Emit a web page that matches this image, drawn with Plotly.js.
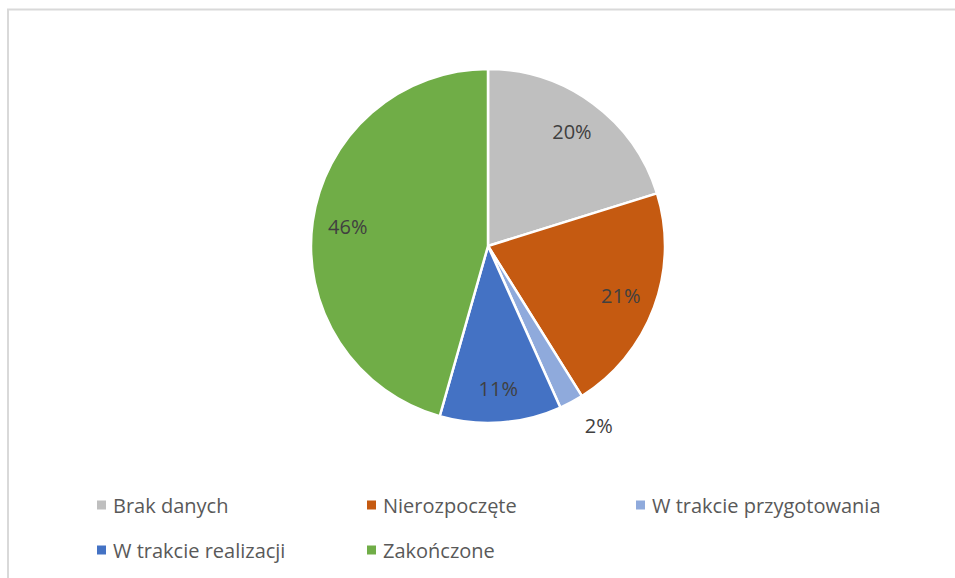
<!DOCTYPE html>
<html>
<head>
<meta charset="utf-8">
<script src="https://cdn.plot.ly/plotly-3.0.1.min.js"></script>
<style>html,body{margin:0;padding:0;background:#fff;}#chart{width:955px;height:578px;}</style>
</head>
<body>
<div id="chart"></div>
<script>
const categories = ["Brak danych", "Nierozpoczęte", "W trakcie przygotowania", "W trakcie realizacji", "Zakończone"];
const values = [20.2, 20.9, 2.2, 11.1, 45.6];
const colors = ["#BFBFBF", "#C55A11", "#8FAADC", "#4472C4", "#70AD47"];
const textPositions = ["inside", "inside", "outside", "inside", "inside"];

const W = 955, H = 578;
const cx = 488, cy = 246, R = 177;
const FONT = "'Open Sans', Lato, sans-serif";
function dom(r) {
  return {x: [(cx - r) / W, (cx + r) / W], y: [1 - (cy + r) / H, 1 - (cy - r) / H]};
}

// slices
const pieTrace = {
  type: "pie",
  labels: categories,
  values: values,
  sort: false,
  direction: "clockwise",
  rotation: 0,
  marker: {colors: colors, line: {color: "#ffffff", width: 2.5}},
  textinfo: "none",
  hoverinfo: "label+percent",
  showlegend: false,
  domain: dom(R)
};

// transparent ring carrying the data labels (places them at ~0.8 R like the original)
const ringScale = 1.08;
const labelTrace = {
  type: "pie",
  labels: categories,
  values: values,
  sort: false,
  direction: "clockwise",
  rotation: 0,
  hole: 2 * 0.8 / ringScale - 1,
  marker: {colors: categories.map(() => "rgba(0,0,0,0)"), line: {width: 0}},
  textinfo: "percent",
  texttemplate: "%{percent:.0%}",
  textposition: textPositions,
  insidetextorientation: "horizontal",
  textfont: {family: FONT, size: 20, color: "#404040"},
  insidetextfont: {family: FONT, size: 20, color: "#404040"},
  outsidetextfont: {family: FONT, size: 20, color: "#404040"},
  hoverinfo: "skip",
  showlegend: false,
  domain: dom(R * ringScale)
};

// legend (3 entries per row, as in the original)
const legCols = [97, 367, 636];
const legRows = [505, 550];
const annotations = [];
const shapes = [{
  type: "rect", xref: "paper", yref: "paper",
  x0: 8 / W, x1: 1.01, y0: -0.02, y1: 1 - 9.5 / H,
  line: {color: "#D9D9D9", width: 2}, fillcolor: "rgba(0,0,0,0)", layer: "below"
}];
categories.forEach((c, i) => {
  const lx = legCols[i % 3], ly = legRows[Math.floor(i / 3)];
  shapes.push({
    type: "rect", xref: "paper", yref: "paper",
    x0: lx / W, x1: (lx + 9) / W, y0: 1 - (ly + 4.5) / H, y1: 1 - (ly - 4.5) / H,
    line: {width: 0}, fillcolor: colors[i]
  });
  annotations.push({
    xref: "paper", yref: "paper", x: (lx + 14) / W, y: 1 - ly / H,
    xanchor: "left", yanchor: "middle", showarrow: false, text: c,
    font: {family: FONT, size: 20, color: "#595959"}
  });
});

const layout = {
  width: W, height: H,
  margin: {l: 0, r: 0, t: 0, b: 0},
  paper_bgcolor: "#ffffff",
  showlegend: false,
  shapes: shapes,
  annotations: annotations
};

Plotly.newPlot("chart", [pieTrace, labelTrace], layout, {displayModeBar: false, staticPlot: true});
</script>
</body>
</html>
